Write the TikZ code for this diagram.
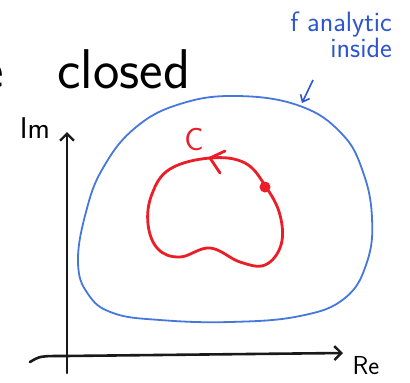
\documentclass[tikz,border=0pt]{standalone}
\usetikzlibrary{arrows.meta}
\definecolor{penblue}{RGB}{70,120,220}
\definecolor{inkblue}{RGB}{45,85,205}
\definecolor{penred}{RGB}{235,30,40}
\begin{document}
\begin{tikzpicture}[x=1pt,y=-1pt,
  axis/.style={line width=2.6pt,line cap=round,black!90},
  region/.style={line width=1.8pt,penblue},
  contour/.style={line width=2.8pt,penred},
  hand/.style={font=\sffamily,inner sep=0pt}]
\useasboundingbox (0,0) rectangle (410,383);
\fill[white] (0,0) rectangle (410,383);
% title fragment
\node[hand,anchor=base west,font=\sffamily\fontsize{56}{56}\selectfont] (title) at (-20,88) {e\hspace{54pt}closed};
% blue annotation
\node[hand,text=inkblue,font=\sffamily\fontsize{28}{30}\selectfont,align=right,anchor=north east] (note) at (392,12) {f analytic\\[-4pt]inside};
\coordinate (nA) at (313,80);
\coordinate (nB) at (302,103);
\draw[line width=1.6pt,inkblue,-{Straight Barb[length=6pt,width=10pt]}] (nA) -- (nB);
% axes
\coordinate (o) at (67,373);
\coordinate (ytop) at (67,132);
\coordinate (xl) at (30,362);
\coordinate (xr) at (343,353);
\draw[axis,-{Straight Barb[length=7pt,width=14pt,line width=2.4pt]}] (o) -- (ytop);
\draw[axis,-{Straight Barb[length=7pt,width=14pt,line width=2.4pt]}] (xl) .. controls (40,356) .. (65,356) -- (xr);
\node[hand,font=\sffamily\fontsize{30}{30}\selectfont] (im) at (35,128) {Im};
\node[hand,font=\sffamily\fontsize{26}{26}\selectfont] (re) at (366,366) {Re};
% blue region
\draw[region] plot[smooth cycle,tension=0.7] coordinates {
 (237,96) (300,106) (342,134) (363,172) (372,218) (367,262) (345,298) (300,316)
 (230,322) (160,320) (113,313) (88,294) (78,262) (86,212) (103,168) (135,128) (180,104)};
% red contour
\draw[contour] plot[smooth cycle,tension=0.65] coordinates {
 (210,158) (245,163) (266,187) (280,215) (281,245) (265,265) (240,262) (210,248)
 (180,257) (158,249) (148,224) (152,194) (170,169)};
\fill[penred] (265,187) circle (5.5pt);
\coordinate (tip) at (210,158);
\draw[contour,line cap=round] (225,151) -- (tip) -- (220,173);
\node[hand,text=penred,font=\sffamily\fontsize{32}{32}\selectfont] (C) at (194,140) {C};
\end{tikzpicture}
\end{document}
